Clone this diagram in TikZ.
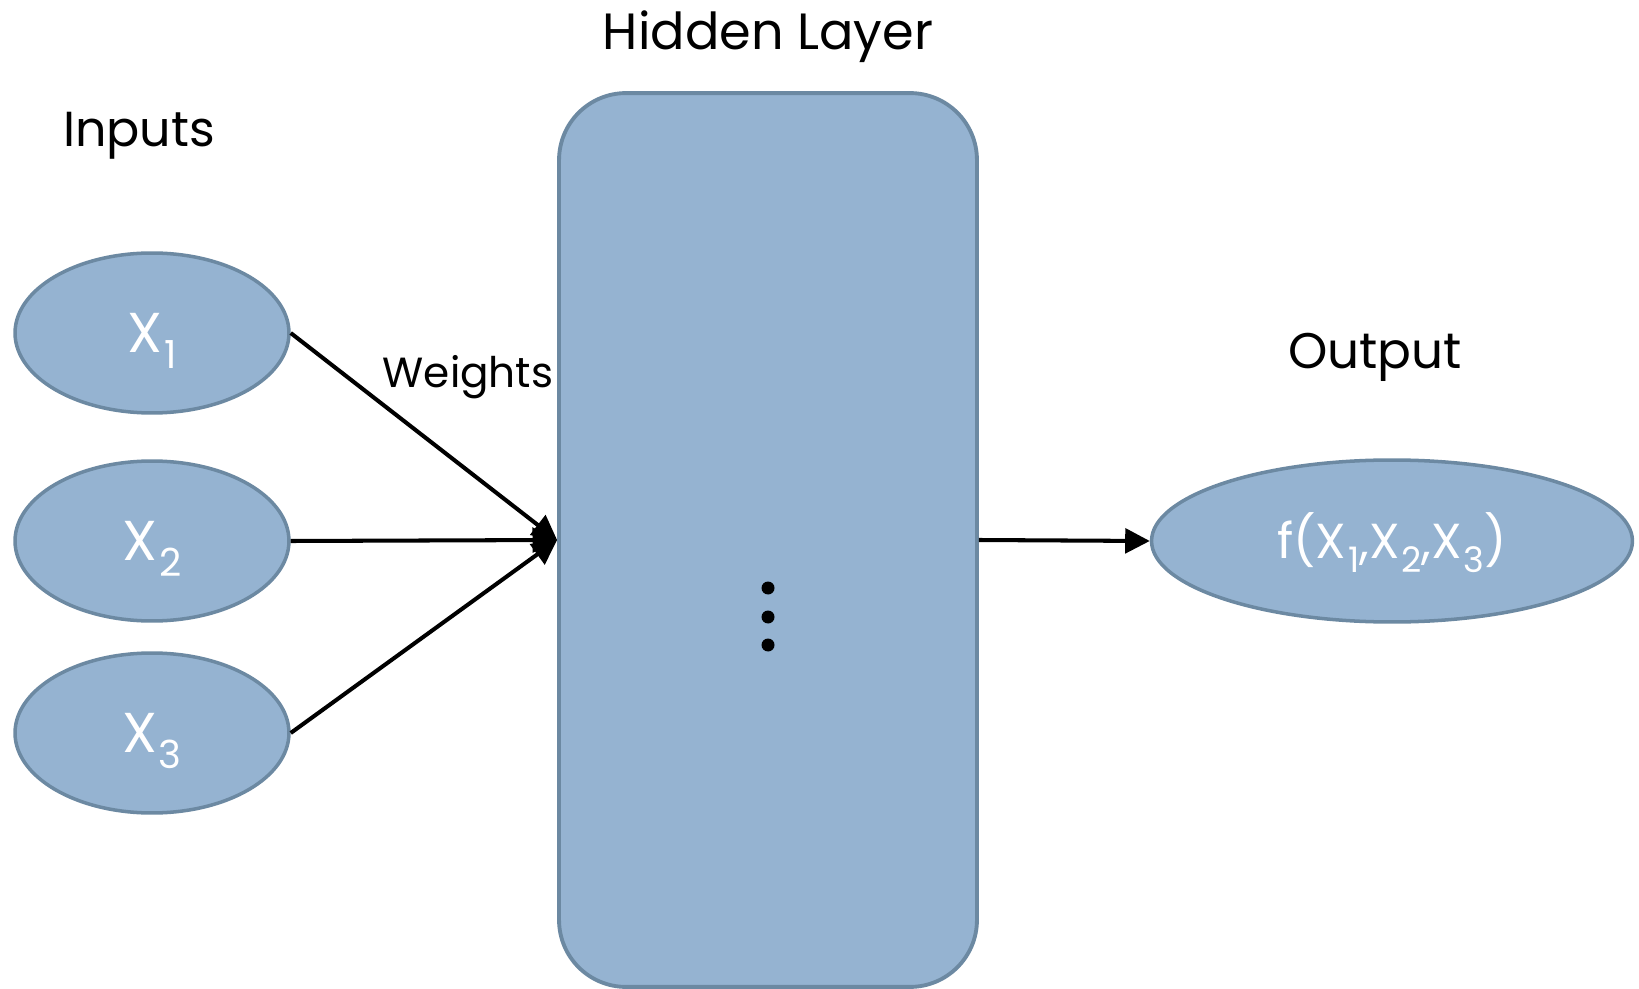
\documentclass[tikz,border=0pt]{standalone}
\usepackage{fontspec}
\setmainfont{Poppins}
\usetikzlibrary{shapes.geometric, arrows.meta}
\definecolor{cellfill}{RGB}{149,179,209}
\definecolor{cellline}{RGB}{108,137,162}
\tikzset{>={Triangle[length=14pt,width=14pt]}}
% X with a lowered index, index size as optional argument
\newcommand{\xin}[2][22]{X\kern1pt\raisebox{-0.29em}{\fontsize{#1}{#1}\selectfont #2}}

\begin{document}
\begin{tikzpicture}[x=0.02cm,y=-0.02cm,
  unit/.style={ellipse,draw=cellline,fill=cellfill,line width=2pt,inner sep=0pt,
    text=white,text height=22pt,text depth=0pt,font=\fontsize{32}{34}\selectfont},
  layer/.style={draw=cellline,fill=cellfill,line width=2.2pt,rounded corners=1.34cm,
    minimum width=8.36cm,minimum height=17.88cm},
  wire/.style={line width=2.3pt,->},
  caption/.style={anchor=base,inner sep=0pt}]
\useasboundingbox (0,0) rectangle (1639,989);
% input neurons
\node[unit,minimum width=5.48cm,minimum height=3.2cm] (x1) at (152,333) {\xin{1}};
\node[unit,minimum width=5.48cm,minimum height=3.2cm] (x2) at (152,541) {\xin{2}};
\node[unit,minimum width=5.48cm,minimum height=3.2cm] (x3) at (152,733) {\xin{3}};
% hidden layer and output
\node[layer] (hid) at (768,540) {};
\node[unit,minimum width=9.62cm,minimum height=3.24cm,text height=20pt,
  font=\fontsize{28}{30}\selectfont] (out) at (1392,541)
  {f(\xin[20]{1},\xin[20]{2},\xin[20]{3})};
\fill (768,588) circle (0.13cm) (768,617) circle (0.13cm) (768,645) circle (0.13cm);
% labels
\node[caption,font=\fontsize{29}{31}\selectfont] at (768,50) {Hidden Layer};
\node[caption,font=\fontsize{28}{30}\selectfont] at (139,147) {Inputs};
\node[caption,font=\fontsize{24}{26}\selectfont] at (468,388) {Weights};
\node[caption,font=\fontsize{28.5}{30}\selectfont] at (1375,369) {Output};
% connections
\draw[wire] (x1.east) -- (hid.west);
\draw[wire] (x2.east) -- (hid.west);
\draw[wire] (x3.east) -- (hid.west);
\draw[wire] (hid.east) -- (out.west);
\end{tikzpicture}
\end{document}
